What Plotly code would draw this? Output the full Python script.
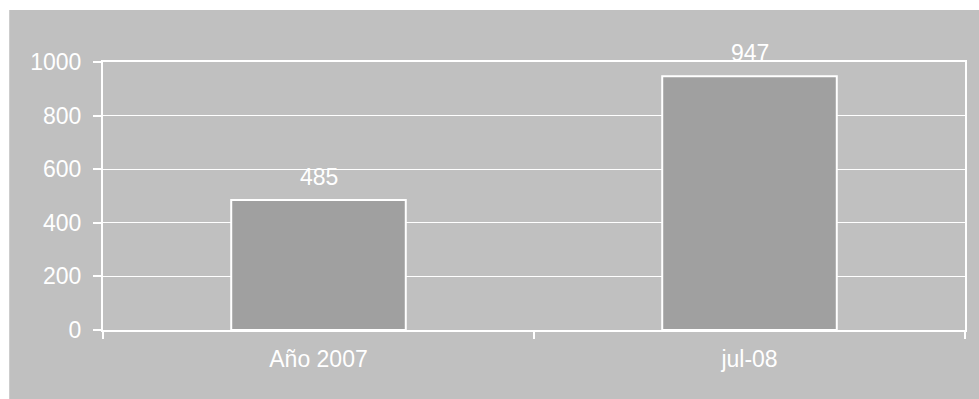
import plotly.graph_objects as go

categories = ["Año 2007", "jul-08"]
values = [485, 947]
y_ticks = [0, 200, 400, 600, 800, 1000]

W, H = 979, 399
L, R, T, B = 103, 12, 62, 69
pw, ph = W - L - R, H - T - B

BG = "#C0C0C0"
BAR = "#A0A0A0"
FONT = "Liberation Sans, Arial, sans-serif"
FS = 23

fig = go.Figure()
fig.add_trace(go.Bar(
    x=categories, y=values, width=0.405,
    marker=dict(color=BAR, line=dict(color="white", width=2)),
    hoverinfo="skip",
))

for c, v in zip(categories, values):
    fig.add_annotation(x=c, y=v, text=str(v), showarrow=False,
                       yanchor="bottom", yshift=8,
                       font=dict(color="white", size=FS, family=FONT))

# white strips at top and left of the gray panel
fig.add_shape(type="rect", xref="paper", yref="paper", layer="above",
              x0=-L / pw - 0.01, x1=(W + 10 - L) / pw,
              y0=(ph + T - 10) / ph, y1=(ph + T + 10) / ph,
              fillcolor="white", line=dict(width=0))
fig.add_shape(type="rect", xref="paper", yref="paper", layer="above",
              x0=-L / pw - 0.01, x1=(9 - L) / pw,
              y0=-(B + 10) / ph, y1=(ph + T + 10) / ph,
              fillcolor="white", line=dict(width=0))

fig.update_layout(
    width=W, height=H,
    margin=dict(l=L, r=R, t=T, b=B, pad=0),
    paper_bgcolor=BG, plot_bgcolor=BG,
    showlegend=False,
    font=dict(family=FONT, color="white", size=FS),
)
fig.update_xaxes(
    showline=True, linecolor="white", linewidth=2, mirror=True,
    ticks="outside", tickson="boundaries", ticklen=7, tickwidth=2, tickcolor="white",
    showgrid=False, ticklabelstandoff=7,
    tickfont=dict(color="white", size=FS, family=FONT),
)
fig.update_yaxes(
    range=[0, 1000], tickvals=y_ticks,
    showline=True, linecolor="white", linewidth=2, mirror=True,
    ticks="outside", ticklen=8, tickwidth=2, tickcolor="white",
    showgrid=True, gridcolor="white", gridwidth=1, zeroline=False,
    ticklabelstandoff=7,
    tickfont=dict(color="white", size=FS, family=FONT),
)

fig.write_html("out.html",
               post_script="document.documentElement.style.background='#C0C0C0';"
                           "document.body.style.background='#C0C0C0';"
                           "document.body.style.margin='0';")
